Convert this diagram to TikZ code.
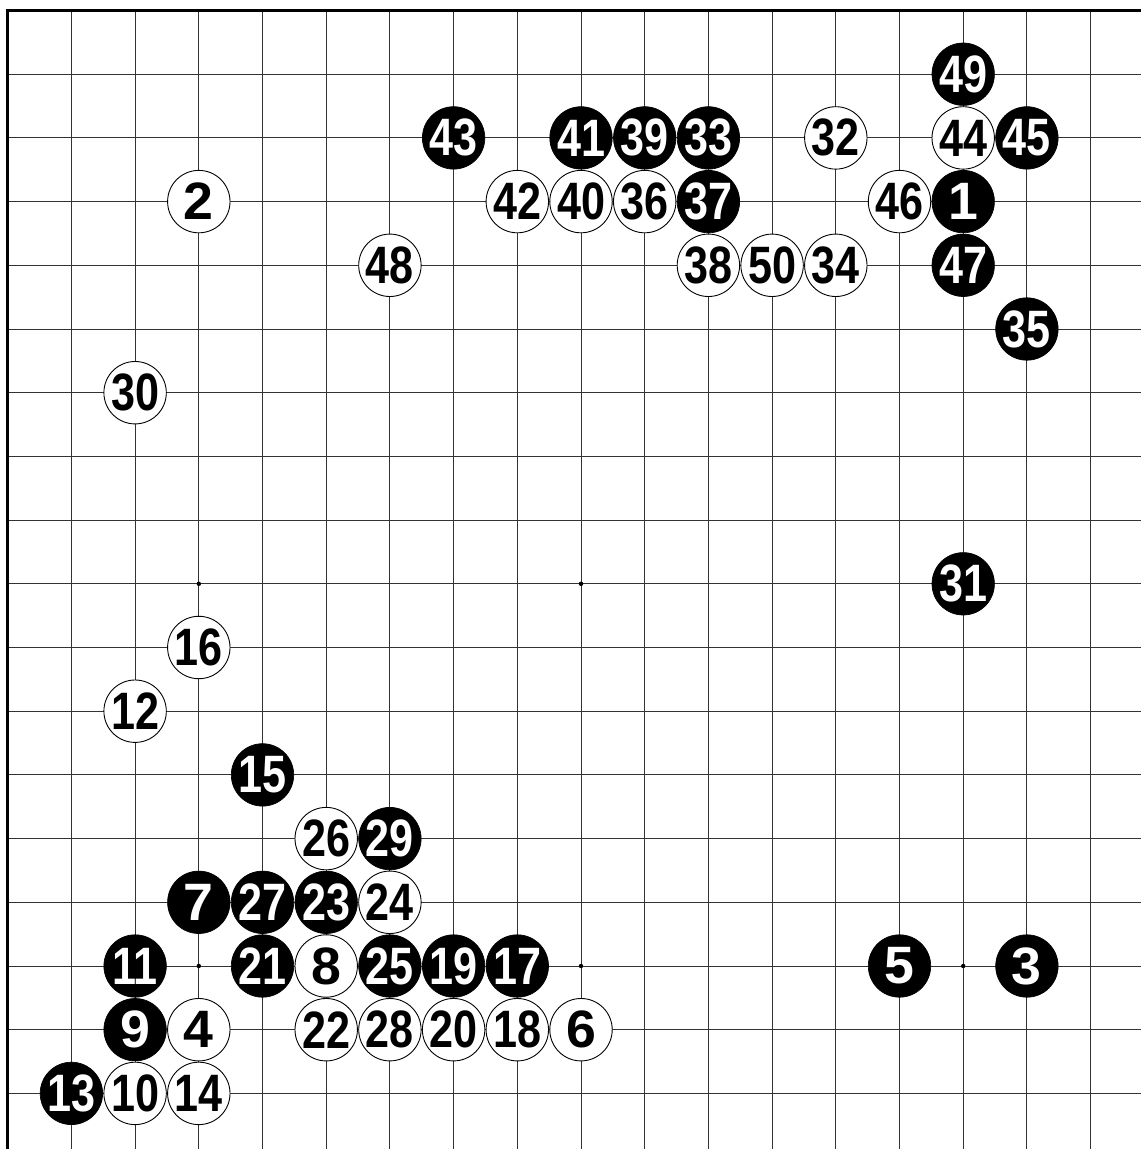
\documentclass[tikz,border=0pt]{standalone}
\usepackage{fontspec}
\newfontfamily\wideface[FakeStretch=1.02]{Liberation Sans Bold}
\newfontfamily\narrowface[FakeStretch=0.82]{Liberation Sans Bold}
\newcommand{\movenum}[1]{\ifnum#1<10 \wideface\else\narrowface\fi
    \fontsize{23.5}{24}\selectfont#1}
\begin{document}
\begin{tikzpicture}[
    x=1cm,y=-1cm,
    gridline/.style={draw=black!80,line width=0.45pt},
    edgeline/.style={draw=black,line width=1.1pt},
    stone/.style={circle,minimum size=0.98cm,inner sep=0pt},
    blackstone/.style={stone,fill=black,draw=black,line width=0.3pt,text=white},
    whitestone/.style={stone,fill=white,draw=black,line width=0.4pt,text=black},
    hoshi/.style={circle,fill=black,inner sep=0pt,minimum size=0.07cm}]
\useasboundingbox (0.879,0.835) rectangle (18.791,18.873);
\clip (0.879,0.835) rectangle (18.791,18.873);
% board
\foreach \c in {2,...,19}
    \draw[gridline] (\c,1) -- (\c,19);
\foreach \r in {2,...,19}
    \draw[gridline] (1,\r) -- (19,\r);
\draw[edgeline] (1,19) -- (1,1) -- (19,1);
\foreach \c/\r in {4/4,10/4,16/4,4/10,10/10,16/10,4/16,10/16,16/16}
    \node[hoshi] (h\c-\r) at (\c,\r) {};
% black moves
\foreach \n/\c/\r in {1/16/4,3/17/16,5/15/16,7/4/15,9/3/17,11/3/16,13/2/18,
    15/5/13,17/9/16,19/8/16,21/5/16,23/6/15,25/7/16,27/5/15,29/7/14,
    31/16/10,33/12/3,35/17/6,37/12/4,39/11/3,41/10/3,43/8/3,45/17/3,
    47/16/5,49/16/2}
    \node[blackstone] (m\n) at (\c,\r) {\movenum{\n}};
% white moves
\foreach \n/\c/\r in {2/4/4,4/4/17,6/10/17,8/6/16,10/3/18,12/3/12,14/4/18,
    16/4/11,18/9/17,20/8/17,22/6/17,24/7/15,26/6/14,28/7/17,30/3/7,
    32/14/3,34/14/5,36/11/4,38/12/5,40/10/4,42/9/4,44/16/3,46/15/4,
    48/7/5,50/13/5}
    \node[whitestone] (m\n) at (\c,\r) {\movenum{\n}};
\end{tikzpicture}
\end{document}
